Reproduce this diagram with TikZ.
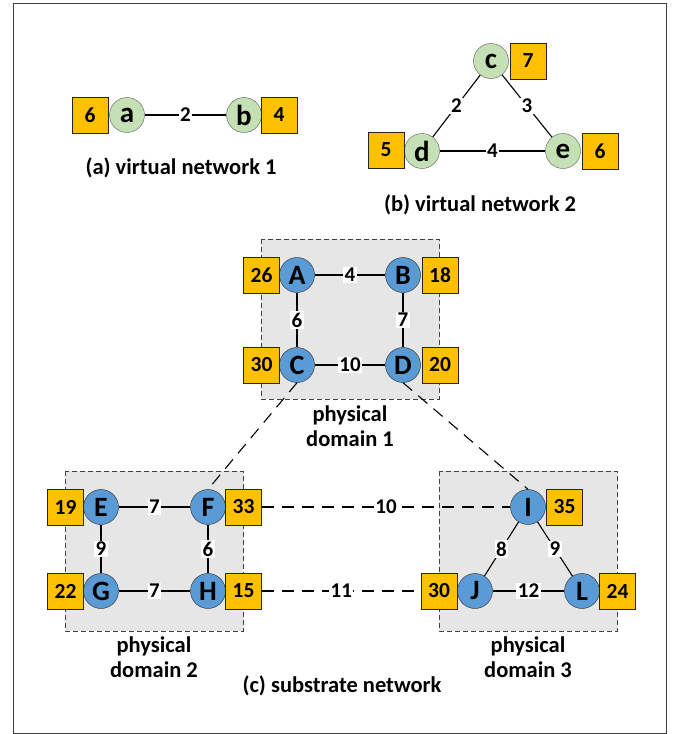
\documentclass[tikz,border=0pt]{standalone}
\usepackage{fontspec}
\setmainfont{Carlito}
\usetikzlibrary{shapes,arrows}

\definecolor{vgreen}{HTML}{C5E0B4}
\definecolor{sblue}{HTML}{5B9BD5}
\definecolor{wgold}{HTML}{FFC000}
\definecolor{dgray}{HTML}{E6E6E6}

\begin{document}
\begin{tikzpicture}[x=1pt,y=-1pt,
                vnode/.style={draw=black!65,circle,fill=vgreen,minimum size=35pt,inner sep=0pt,font=\fontsize{29}{29}\selectfont\bfseries},
                snode/.style={draw=black!85,circle,fill=sblue,minimum size=35pt,inner sep=0pt,font=\fontsize{28}{28}\selectfont\bfseries},
                wbox/.style={draw=black!85,fill=wgold,minimum size=36pt,inner sep=0pt,font=\fontsize{21.5}{21.5}\selectfont\bfseries},
                lbl/.style={fill=white,inner sep=1.5pt,font=\fontsize{21}{21}\selectfont\bfseries},
                captext/.style={align=center,font=\fontsize{22.5}{25}\selectfont\bfseries},
                wire/.style={line width=1.1pt},
                dwire/.style={line width=1.1pt,dash pattern=on 12pt off 8pt},
                dombox/.style={draw=black!75,fill=dgray,dash pattern=on 5pt off 3pt,line width=0.8pt}]
  \useasboundingbox (0,0) rectangle (673,734);
  \draw[black!75,line width=1pt] (13,3) rectangle (666,733);

  % virtual network 1
  \node[wbox]  (wa) at (90,115)  {6};
  \node[vnode] (a)  at (127,115) {a};
  \node[vnode] (b)  at (244,115) {b};
  \node[wbox]  (wb) at (279,115) {4};
  \draw[wire] (a) edge node[lbl] {2} (b);
  \node[captext] (capa) at (181,168) {(a) virtual network 1};

  % virtual network 2
  \node[vnode] (c)  at (491,61)  {c};
  \node[wbox]  (wc) at (528,61)  {7};
  \node[vnode] (d)  at (422,151) {d};
  \node[wbox]  (wd) at (386,150) {5};
  \node[vnode] (e)  at (563,151) {e};
  \node[wbox]  (we) at (600,151) {6};
  \draw[wire] (c) edge node[lbl] {2} (d);
  \draw[wire] (c) edge node[lbl] {3} (e);
  \draw[wire] (d) edge node[lbl] {4} (e);
  \node[captext] (capb) at (480,205) {(b) virtual network 2};

  % substrate network: domains
  \draw[dombox] (261,239) rectangle (439,399);
  \draw[dombox] (65,471)  rectangle (243,631);
  \draw[dombox] (439,471) rectangle (617,631);

  \node[snode] (A)  at (297,275) {A};
  \node[wbox]  (wA) at (261.5,275) {26};
  \node[snode] (B)  at (403,275) {B};
  \node[wbox]  (wB) at (440,275) {18};
  \node[snode] (C)  at (297,365) {C};
  \node[wbox]  (wC) at (261.5,365) {30};
  \node[snode] (D)  at (403,365) {D};
  \node[wbox]  (wD) at (440,365) {20};
  \node[captext] (dom1) at (350,426) {physical\\domain 1};

  \node[snode] (E)  at (101,507) {E};
  \node[wbox]  (wE) at (65.5,507) {19};
  \node[snode] (F)  at (208,507) {F};
  \node[wbox]  (wF) at (243.5,507) {33};
  \node[snode] (G)  at (101,591) {G};
  \node[wbox]  (wG) at (65.5,591) {22};
  \node[snode] (H)  at (208,591) {H};
  \node[wbox]  (wH) at (243.5,591) {15};
  \node[captext] (dom2) at (154,657) {physical\\domain 2};

  \node[snode] (I)  at (528,507) {I};
  \node[wbox]  (wI) at (564.5,507) {35};
  \node[snode] (J)  at (475,591) {J};
  \node[wbox]  (wJ) at (439,591) {30};
  \node[snode] (L)  at (582,591) {L};
  \node[wbox]  (wL) at (617.5,591) {24};
  \node[captext] (dom3) at (528,657) {physical\\domain 3};

  \draw[wire] (A) edge node[lbl] {4} (B);
  \draw[wire] (A) edge node[lbl] {6} (C);
  \draw[wire] (B) edge node[lbl] {7} (D);
  \draw[wire] (C) edge node[lbl] {10} (D);
  \draw[wire] (E) edge node[lbl] {7} (F);
  \draw[wire] (E) edge node[lbl] {9} (G);
  \draw[wire] (F) edge node[lbl] {6} (H);
  \draw[wire] (G) edge node[lbl] {7} (H);
  \draw[wire] (I) edge node[lbl] {8} (J);
  \draw[wire] (I) edge node[lbl] {9} (L);
  \draw[wire] (J) edge node[lbl] {12} (L);

  % inter-domain links
  \draw[dwire] (C.south) edge (F.north);
  \draw[dwire] (D.south) edge (I.north);
  \draw[dwire] (wF.east) edge node[lbl] {10} (I.west);
  \draw[dwire] (wH.east) edge node[lbl] {11} (wJ.west);

  \node[captext] (capc) at (342,686) {(c) substrate network};
\end{tikzpicture}
\end{document}
